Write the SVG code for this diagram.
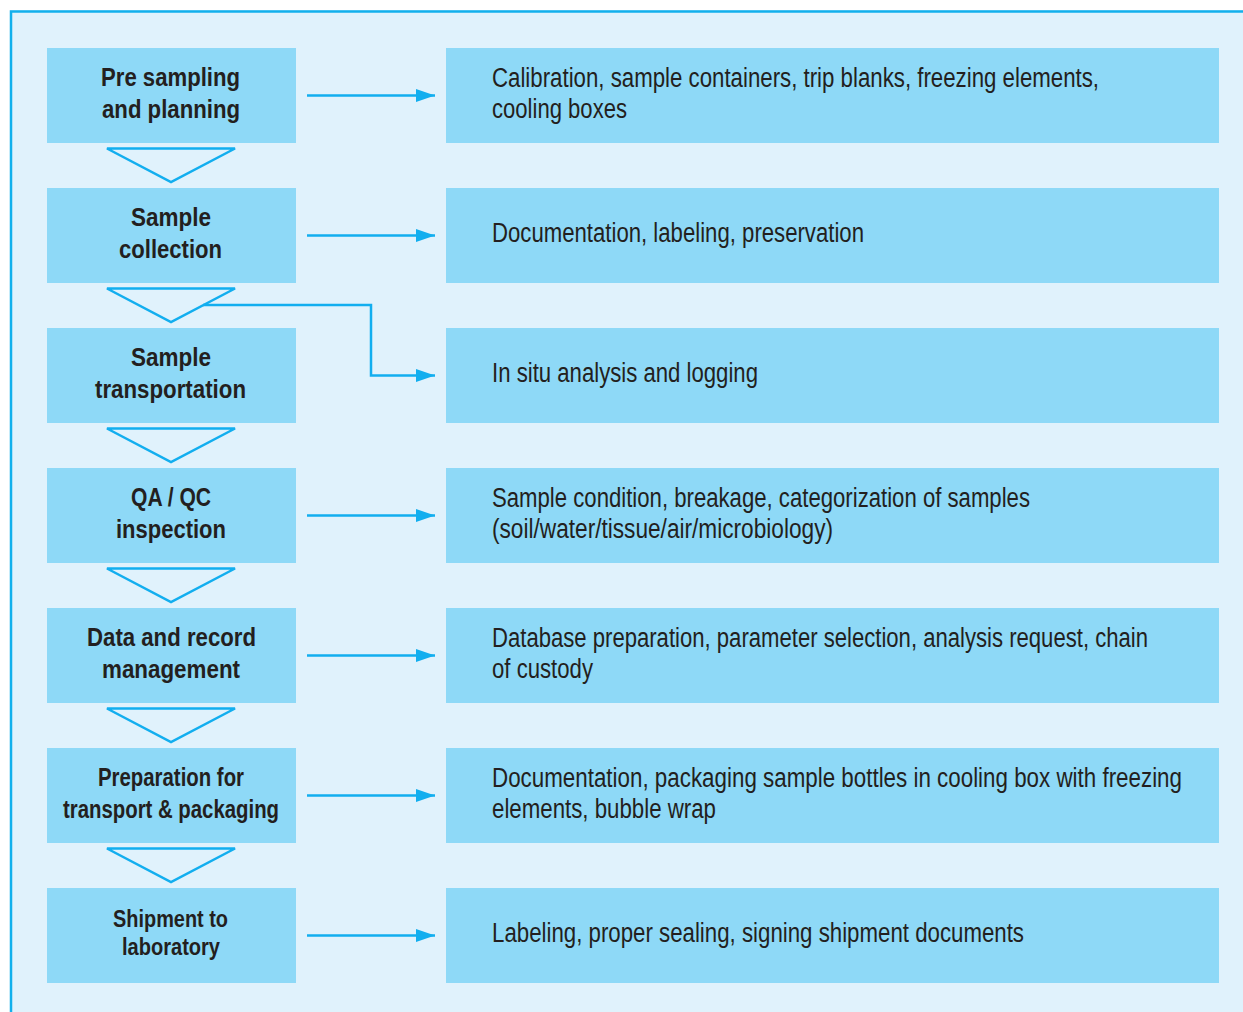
<svg xmlns="http://www.w3.org/2000/svg" width="1243" height="1012" viewBox="0 0 1243 1012">
<defs>
<style>
.bg{fill:#e0f2fc}
.frame{fill:none;stroke:#12b0ec;stroke-width:2.5}
.box{fill:#8ed9f7}
.lbl{font-family:"Liberation Sans",Arial,sans-serif;font-weight:bold;font-size:26px;fill:#231f20}
.desc{font-family:"Liberation Sans",Arial,sans-serif;font-size:27px;fill:#231f20}
.tri{fill:none;stroke:#12aeef;stroke-width:2.5;stroke-linejoin:miter}
.conn{fill:none;stroke:#12aeef;stroke-width:2.5}
</style>
<marker id="ah" markerWidth="20" markerHeight="14" refX="19" refY="6.5" orient="auto" markerUnits="userSpaceOnUse" viewBox="0 0 20 14">
<path d="M0,0 L19,6.5 L0,13 Z" fill="#12aeef"/>
</marker>
</defs>
<rect class="bg" x="0" y="0" width="1243" height="1012"/>
<rect x="0" y="0" width="1243" height="10" fill="#ffffff"/>
<rect x="0" y="10" width="10" height="1002" fill="#ffffff"/>
<path class="frame" d="M11,1012 V11.5 H1243"/>

<g id="step1"><rect class="box" x="47" y="48" width="249" height="95"/><text class="lbl" x="101" y="86" textLength="139" lengthAdjust="spacingAndGlyphs">Pre sampling</text><text class="lbl" x="102" y="118" textLength="138" lengthAdjust="spacingAndGlyphs">and planning</text></g>
<g id="step2"><rect class="box" x="47" y="188" width="249" height="95"/><text class="lbl" x="131" y="226" textLength="80" lengthAdjust="spacingAndGlyphs">Sample</text><text class="lbl" x="119" y="258" textLength="103" lengthAdjust="spacingAndGlyphs">collection</text></g>
<g id="step3"><rect class="box" x="47" y="328" width="249" height="95"/><text class="lbl" x="131" y="366" textLength="80" lengthAdjust="spacingAndGlyphs">Sample</text><text class="lbl" x="95" y="398" textLength="151" lengthAdjust="spacingAndGlyphs">transportation</text></g>
<g id="step4"><rect class="box" x="47" y="468" width="249" height="95"/><text class="lbl" x="131" y="506" textLength="80" lengthAdjust="spacingAndGlyphs">QA / QC</text><text class="lbl" x="116" y="538" textLength="110" lengthAdjust="spacingAndGlyphs">inspection</text></g>
<g id="step5"><rect class="box" x="47" y="608" width="249" height="95"/><text class="lbl" x="87" y="646" textLength="169" lengthAdjust="spacingAndGlyphs">Data and record</text><text class="lbl" x="102" y="678" textLength="138" lengthAdjust="spacingAndGlyphs">management</text></g>
<g id="step6"><rect class="box" x="47" y="748" width="249" height="95"/><text class="lbl" x="98" y="786" textLength="146" lengthAdjust="spacingAndGlyphs">Preparation for</text><text class="lbl" x="63" y="818" textLength="216" lengthAdjust="spacingAndGlyphs">transport &amp; packaging</text></g>
<g id="step7"><rect class="box" x="47" y="888" width="249" height="95"/><text class="lbl" x="113" y="927.3" textLength="115" lengthAdjust="spacingAndGlyphs" style="font-size:24px">Shipment to</text><text class="lbl" x="122" y="955.3" textLength="98" lengthAdjust="spacingAndGlyphs" style="font-size:24px">laboratory</text></g>

<g id="note1"><rect class="box" x="446" y="48" width="773" height="95"/><text class="desc" x="492" y="86.7" textLength="607" lengthAdjust="spacingAndGlyphs">Calibration, sample containers, trip blanks, freezing elements,</text><text class="desc" x="492" y="118" textLength="135" lengthAdjust="spacingAndGlyphs">cooling boxes</text></g>
<g id="note2"><rect class="box" x="446" y="188" width="773" height="95"/><text class="desc" x="492" y="242.3" textLength="372" lengthAdjust="spacingAndGlyphs">Documentation, labeling, preservation</text></g>
<g id="note3"><rect class="box" x="446" y="328" width="773" height="95"/><text class="desc" x="492" y="382.3" textLength="266" lengthAdjust="spacingAndGlyphs">In situ analysis and logging</text></g>
<g id="note4"><rect class="box" x="446" y="468" width="773" height="95"/><text class="desc" x="492" y="506.7" textLength="538" lengthAdjust="spacingAndGlyphs">Sample condition, breakage, categorization of samples</text><text class="desc" x="492" y="538" textLength="341" lengthAdjust="spacingAndGlyphs">(soil/water/tissue/air/microbiology)</text></g>
<g id="note5"><rect class="box" x="446" y="608" width="773" height="95"/><text class="desc" x="492" y="646.7" textLength="656" lengthAdjust="spacingAndGlyphs">Database preparation, parameter selection, analysis request, chain</text><text class="desc" x="492" y="678" textLength="101" lengthAdjust="spacingAndGlyphs">of custody</text></g>
<g id="note6"><rect class="box" x="446" y="748" width="773" height="95"/><text class="desc" x="492" y="786.7" textLength="690" lengthAdjust="spacingAndGlyphs">Documentation, packaging sample bottles in cooling box with freezing</text><text class="desc" x="492" y="818" textLength="224" lengthAdjust="spacingAndGlyphs">elements, bubble wrap</text></g>
<g id="note7"><rect class="box" x="446" y="888" width="773" height="95"/><text class="desc" x="492" y="942.3" textLength="532" lengthAdjust="spacingAndGlyphs">Labeling, proper sealing, signing shipment documents</text></g>

<g id="connectors">
<path class="tri" d="M107,148.5 H235 L171,182 Z"/>
<path class="tri" d="M107,288.5 H235 L171,322 Z"/>
<path class="tri" d="M107,428.5 H235 L171,462 Z"/>
<path class="tri" d="M107,568.5 H235 L171,602 Z"/>
<path class="tri" d="M107,708.5 H235 L171,742 Z"/>
<path class="tri" d="M107,848.5 H235 L171,882 Z"/>
<path class="conn" marker-end="url(#ah)" d="M307,95.5 H435"/>
<path class="conn" marker-end="url(#ah)" d="M307,235.5 H435"/>
<path class="conn" marker-end="url(#ah)" d="M203,305 H371 V375.5 H435"/>
<path class="conn" marker-end="url(#ah)" d="M307,515.5 H435"/>
<path class="conn" marker-end="url(#ah)" d="M307,655.5 H435"/>
<path class="conn" marker-end="url(#ah)" d="M307,795.5 H435"/>
<path class="conn" marker-end="url(#ah)" d="M307,935.5 H435"/>
</g>
</svg>
